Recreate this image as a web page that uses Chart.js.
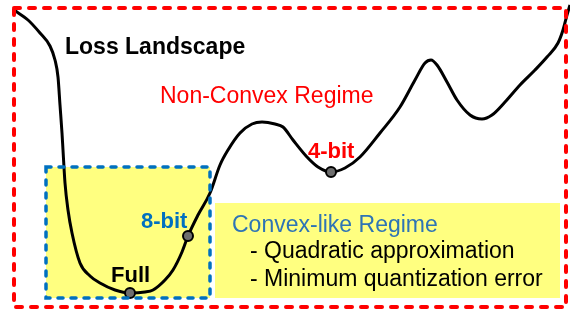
<!DOCTYPE html>
<html><head><meta charset="utf-8">
<script src="https://cdn.jsdelivr.net/npm/chart.js@4"></script>
<style>html,body{margin:0;padding:0;background:#fff;}canvas{display:block;}</style>
</head><body>
<canvas id="c" width="570" height="310"></canvas>
<script>
// Curve: parameter (x) vs loss (y), loss measured upward from the bottom (0..310)
const curveX = [14,28,40,50,55,58,60,62,63,65,68,72,80,90,100,115,130,145,153,165,173,182,188,198,210,220,228,240,252,262,275,283,293,307,318,331,345,360,380,400,415,425,431,437,447,457,470,482,492,505,520,535,547,558,563,567,570];
const curveLoss = [300,290,277,264,250,233,205,177,160,127,100,77,47,34,27,20,17,18,20,30,40,58,74,95,117,145,160,177,186,188,186,183,170,153,143,138,142,153,177,203,230,247,250,245,228,210,195,191,195,208,225,240,253,267,280,295,305];
// Marked models
const markLabels = ["Full","8-bit","4-bit"];
const markX = [130,188,331];
const markLoss = [17,74,138];

const curve = curveX.map((x,i)=>({x:x,y:curveLoss[i]}));
const marks = markX.map((x,i)=>({x:x,y:markLoss[i]}));

const H = 310;
const overlay = {
  id:'overlay',
  beforeDatasetsDraw(chart){
    const {ctx, scales:{x,y}} = chart;
    const R = (x0,y0,x1,y1)=>{
      const a=x.getPixelForValue(x0), b=y.getPixelForValue(H-y0);
      const c=x.getPixelForValue(x1), d=y.getPixelForValue(H-y1);
      return [a,b,c-a,d-b];
    };
    ctx.save();
    ctx.fillStyle='#ffff80';
    ctx.fillRect(...R(46,167,210,298));
    ctx.fillRect(...R(215,203,560,298));
    ctx.restore();
  },
  afterDatasetsDraw(chart){
    const {ctx, scales:{x,y}} = chart;
    const px=v=>x.getPixelForValue(v), py=v=>y.getPixelForValue(H-v);
    ctx.save();
    ctx.strokeStyle='#0070c0'; ctx.lineWidth=3.5; ctx.lineCap='round';
    ctx.setLineDash([5,8]);
    ctx.strokeRect(px(46),py(167),px(210)-px(46),py(298)-py(167));
    ctx.strokeStyle='#ff0000'; ctx.lineWidth=4;
    ctx.setLineDash([6,9]);
    ctx.strokeRect(px(14),py(8),px(566)-px(14),py(307)-py(8));
    ctx.setLineDash([]);
    const T=(s,xx,yy,font,col)=>{ctx.font=font;ctx.fillStyle=col;ctx.textBaseline='alphabetic';ctx.textAlign='left';ctx.fillText(s,px(xx),py(yy));};
    const F='"Liberation Sans", Arial, sans-serif';
    T('Loss Landscape',65,54,'bold 23px '+F,'#000');
    T('Non-Convex Regime',160,103,'23px '+F,'#ff0000');
    T(markLabels[2],308,158,'bold 22px '+F,'#ff0000');
    T(markLabels[1],141,228,'bold 22px '+F,'#0070c0');
    T(markLabels[0],111,282,'bold 22px '+F,'#000');
    T('Convex-like Regime',232,232,'23px '+F,'#2e74b5');
    T('- Quadratic approximation',250,258,'23px '+F,'#000');
    T('- Minimum quantization error',250,286,'23px '+F,'#000');
    ctx.restore();
  }
};

new Chart(document.getElementById('c'),{
  type:'scatter',
  data:{datasets:[
    {data:curve, showLine:true, borderColor:'#000', borderWidth:3, pointRadius:0, cubicInterpolationMode:'monotone', clip:false, order:2},
    {data:marks, showLine:false, pointRadius:5, pointBackgroundColor:'#6e6e6e', pointBorderColor:'#000', pointBorderWidth:2, clip:false, order:1}
  ]},
  options:{
    responsive:false, animation:false,
    layout:{padding:0, autoPadding:false},
    plugins:{legend:{display:false}, tooltip:{enabled:false}},
    scales:{
      x:{type:'linear', min:0, max:570, display:false},
      y:{type:'linear', min:0, max:310, display:false}
    }
  },
  plugins:[overlay]
});
</script>
</body></html>
